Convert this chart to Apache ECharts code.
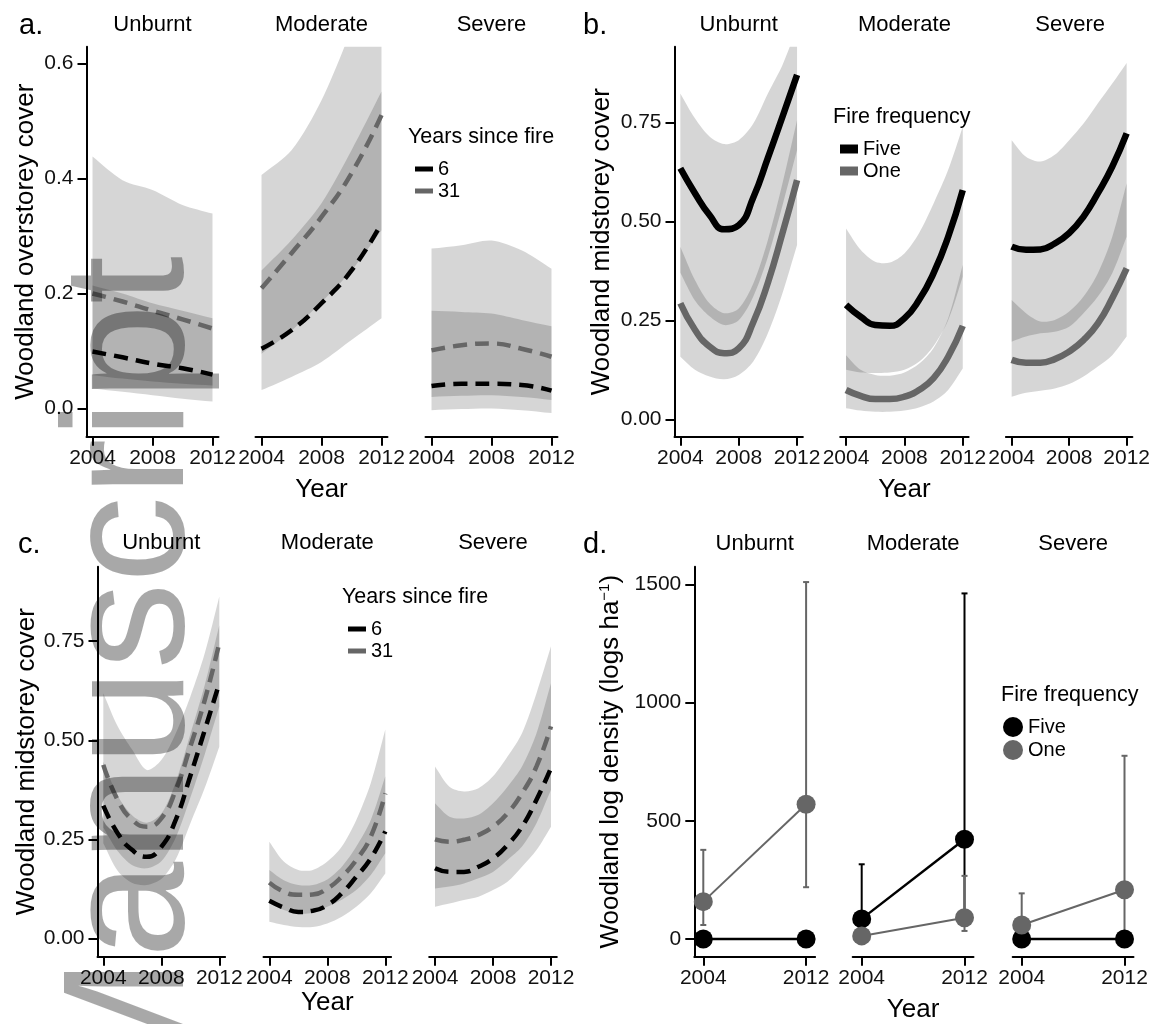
<!DOCTYPE html>
<html><head><meta charset="utf-8">
<script src="https://cdn.jsdelivr.net/npm/echarts@6/dist/echarts.min.js"></script>
<style>html,body{margin:0;padding:0;background:#fff}#c{width:1153px;height:1024px}</style>
</head><body><div id="c"></div>
<script>
// ---------------- data ----------------
const FACETS = ['Unburnt', 'Moderate', 'Severe'];
const X_TICKS = [2004, 2008, 2012];
const X_TICKS_D = [2004, 2012];
const Y_TICKS_A = [0, 0.2, 0.4, 0.6];
const Y_TICKS_BC = [0, 0.25, 0.5, 0.75];
const Y_TICKS_D = [0, 500, 1000, 1500];

const YEARS_A = [2004, 2006, 2008, 2010, 2012];
const YEARS_9 = [2004, 2005, 2006, 2007, 2008, 2009, 2010, 2011, 2012];
const YEARS_D = [2004, 2012];

// a. Woodland overstorey cover, years since fire 6 / 31
const a_unburnt_6_fit  = [0.099, 0.089, 0.078, 0.070, 0.059];
const a_unburnt_6_lo   = [0.035, 0.029, 0.023, 0.017, 0.012];
const a_unburnt_6_hi   = [0.214, 0.200, 0.183, 0.170, 0.157];
const a_unburnt_31_fit = [0.200, 0.186, 0.170, 0.155, 0.139];
const a_unburnt_31_lo  = [0.058, 0.052, 0.047, 0.043, 0.040];
const a_unburnt_31_hi  = [0.438, 0.397, 0.380, 0.354, 0.339];

const a_moderate_6_fit  = [0.104, 0.136, 0.183, 0.240, 0.322];
const a_moderate_6_lo   = [0.032, 0.055, 0.081, 0.119, 0.157];
const a_moderate_6_hi   = [0.240, 0.293, 0.357, 0.449, 0.551];
const a_moderate_31_fit = [0.209, 0.270, 0.333, 0.409, 0.510];
const a_moderate_31_lo  = [0.095, 0.135, 0.185, 0.240, 0.310];
const a_moderate_31_hi  = [0.406, 0.449, 0.536, 0.660, 0.800];

const a_severe_6_fit  = [0.039, 0.043, 0.043, 0.041, 0.031];
const a_severe_6_lo   = [-0.003, -0.001, 0.000, -0.003, -0.008];
const a_severe_6_hi   = [0.170, 0.168, 0.165, 0.154, 0.143];
const a_severe_31_fit = [0.101, 0.110, 0.113, 0.104, 0.090];
const a_severe_31_lo  = [0.020, 0.022, 0.023, 0.020, 0.015];
const a_severe_31_hi  = [0.278, 0.284, 0.292, 0.275, 0.243];

// b. Woodland midstorey cover, fire frequency Five / One
const b_unburnt_five_fit = [0.634, 0.571, 0.516, 0.480, 0.490, 0.560, 0.660, 0.764, 0.870];
const b_unburnt_five_lo  = [0.370, 0.300, 0.260, 0.238, 0.250, 0.310, 0.410, 0.540, 0.680];
const b_unburnt_five_hi  = [0.823, 0.760, 0.714, 0.695, 0.705, 0.747, 0.823, 0.895, 0.990];
const b_unburnt_one_fit  = [0.293, 0.226, 0.184, 0.167, 0.179, 0.245, 0.345, 0.470, 0.604];
const b_unburnt_one_lo   = [0.158, 0.125, 0.108, 0.101, 0.112, 0.146, 0.217, 0.318, 0.440];
const b_unburnt_one_hi   = [0.436, 0.352, 0.293, 0.268, 0.280, 0.343, 0.453, 0.596, 0.756];

const b_moderate_five_fit = [0.289, 0.259, 0.238, 0.236, 0.255, 0.301, 0.369, 0.461, 0.579];
const b_moderate_five_lo  = [0.125, 0.118, 0.117, 0.118, 0.125, 0.145, 0.185, 0.250, 0.360];
const b_moderate_five_hi  = [0.482, 0.428, 0.398, 0.396, 0.419, 0.470, 0.545, 0.630, 0.739];
const b_moderate_one_fit  = [0.074, 0.059, 0.051, 0.051, 0.057, 0.074, 0.104, 0.158, 0.236];
const b_moderate_one_lo   = [0.028, 0.022, 0.019, 0.019, 0.022, 0.030, 0.045, 0.074, 0.128];
const b_moderate_one_hi   = [0.162, 0.125, 0.112, 0.110, 0.118, 0.140, 0.180, 0.255, 0.390];

const b_severe_five_fit = [0.436, 0.428, 0.429, 0.444, 0.470, 0.512, 0.571, 0.638, 0.722];
const b_severe_five_lo  = [0.196, 0.209, 0.217, 0.221, 0.234, 0.268, 0.310, 0.369, 0.461];
const b_severe_five_hi  = [0.705, 0.663, 0.651, 0.668, 0.705, 0.747, 0.798, 0.848, 0.900];
const b_severe_one_fit  = [0.150, 0.143, 0.143, 0.152, 0.171, 0.200, 0.242, 0.306, 0.381];
const b_severe_one_lo   = [0.057, 0.067, 0.072, 0.078, 0.089, 0.108, 0.133, 0.162, 0.209];
const b_severe_one_hi   = [0.301, 0.268, 0.247, 0.251, 0.272, 0.310, 0.369, 0.461, 0.596];

// c. Woodland midstorey cover, years since fire 6 / 31
const c_unburnt_6_fit  = [0.335, 0.265, 0.223, 0.206, 0.231, 0.300, 0.410, 0.526, 0.644];
const c_unburnt_6_lo   = [0.240, 0.170, 0.140, 0.135, 0.150, 0.200, 0.290, 0.380, 0.484];
const c_unburnt_6_hi   = [0.446, 0.360, 0.310, 0.292, 0.315, 0.395, 0.515, 0.640, 0.790];
const c_unburnt_31_fit = [0.438, 0.349, 0.299, 0.282, 0.303, 0.375, 0.484, 0.602, 0.745];
const c_unburnt_31_lo  = [0.280, 0.220, 0.185, 0.177, 0.195, 0.255, 0.355, 0.465, 0.585];
const c_unburnt_31_hi  = [0.619, 0.535, 0.476, 0.425, 0.450, 0.518, 0.610, 0.720, 0.863];

const c_moderate_6_fit  = [0.095, 0.078, 0.067, 0.070, 0.084, 0.114, 0.156, 0.202, 0.270];
const c_moderate_6_lo   = [0.042, 0.034, 0.029, 0.029, 0.038, 0.055, 0.080, 0.114, 0.164];
const c_moderate_6_hi   = [0.173, 0.147, 0.135, 0.135, 0.149, 0.181, 0.232, 0.299, 0.409];
const c_moderate_31_fit = [0.141, 0.118, 0.110, 0.111, 0.126, 0.156, 0.198, 0.257, 0.366];
const c_moderate_31_lo  = [0.088, 0.072, 0.063, 0.065, 0.080, 0.098, 0.122, 0.160, 0.215];
const c_moderate_31_hi  = [0.244, 0.194, 0.173, 0.173, 0.194, 0.232, 0.299, 0.392, 0.527];

const c_severe_6_fit  = [0.177, 0.168, 0.168, 0.181, 0.202, 0.236, 0.282, 0.350, 0.430];
const c_severe_6_lo   = [0.080, 0.088, 0.097, 0.105, 0.122, 0.143, 0.181, 0.223, 0.282];
const c_severe_6_hi   = [0.341, 0.307, 0.303, 0.312, 0.341, 0.383, 0.434, 0.518, 0.644];
const c_severe_31_fit = [0.250, 0.244, 0.249, 0.261, 0.282, 0.316, 0.366, 0.434, 0.535];
const c_severe_31_lo  = [0.126, 0.131, 0.139, 0.152, 0.168, 0.198, 0.232, 0.291, 0.375];
const c_severe_31_hi  = [0.434, 0.383, 0.371, 0.379, 0.409, 0.459, 0.518, 0.619, 0.737];

// d. Woodland log density (mean with error bars)
const d_unburnt_five    = [0, 0];
const d_unburnt_one     = [158, 570];
const d_unburnt_one_lo  = [59, 219];
const d_unburnt_one_hi  = [377, 1510];
const d_moderate_five    = [85, 422];
const d_moderate_five_lo = [24, 109];
const d_moderate_five_hi = [316, 1462];
const d_moderate_one     = [13, 90];
const d_moderate_one_lo  = [1, 34];
const d_moderate_one_hi  = [59, 267];
const d_severe_five    = [0, 0];
const d_severe_one     = [59, 208];
const d_severe_one_lo  = [18, 26];
const d_severe_one_hi  = [193, 775];

// ---------------- styling / layout ----------------
const FONT = '"Liberation Sans", Arial, sans-serif';
const BLACK = '#000000';
const GREY = '#666666';
const RIBBON = 'rgba(0,0,0,0.16)';

const LAYOUT = [
  {top: 46.7, height: 390, lefts: [86.5, 255.5, 425.5], width: 132, xmin: 2003.6, xmax: 2012.4,
   ymin: -0.049, ymax: 0.629, yticks: Y_TICKS_A, ydec: 1, xticks: X_TICKS,
   yName: 'Woodland overstorey cover', yGap: 48, xGap: 40},
  {top: 46.7, height: 390, lefts: [674.5, 840.2, 1005.9], width: 128.4, xmin: 2003.6, xmax: 2012.4,
   ymin: -0.044, ymax: 0.941, yticks: Y_TICKS_BC, ydec: 2, xticks: X_TICKS,
   yName: 'Woodland midstorey cover', yGap: 60, xGap: 40},
  {top: 566.7, height: 390, lefts: [97.5, 263.5, 429.2], width: 127.6, xmin: 2003.6, xmax: 2012.4,
   ymin: -0.046, ymax: 0.938, yticks: Y_TICKS_BC, ydec: 2, xticks: X_TICKS,
   yName: 'Woodland midstorey cover', yGap: 58, xGap: 31},
  {top: 566.7, height: 390, lefts: [694.3, 852.7, 1012.7], width: 120.8, xmin: 2003.3, xmax: 2012.7,
   ymin: -75, ymax: 1575, yticks: Y_TICKS_D, ydec: 0, xticks: X_TICKS_D,
   yName: 'Woodland log density (logs ha{sup|−1})', yGap: 70, xGap: 40}
];

const grids = [], xAxes = [], yAxes = [];
LAYOUT.forEach((P, pi) => {
  P.lefts.forEach((left, fi) => {
    grids.push({left: left, top: P.top, width: P.width, height: P.height, containLabel: false});
    const g = grids.length - 1;
    xAxes.push({
      type: 'value', gridIndex: g, min: P.xmin, max: P.xmax,
      axisLine: {show: true, onZero: false, lineStyle: {color: BLACK, width: 2}},
      axisTick: {show: true, length: 9, lineStyle: {color: BLACK, width: 2}, customValues: P.xticks},
      axisLabel: {show: true, customValues: P.xticks, formatter: v => String(v), fontSize: 21,
        fontFamily: FONT, color: '#111', margin: 11},
      splitLine: {show: false},
      name: fi === 1 ? 'Year' : '', nameLocation: 'middle', nameGap: P.xGap,
      nameTextStyle: {fontSize: 26, fontFamily: FONT, color: BLACK, verticalAlign: 'top'}
    });
    const isFirst = fi === 0;
    yAxes.push({
      type: 'value', gridIndex: g, min: P.ymin, max: P.ymax, show: isFirst,
      axisLine: {show: true, onZero: false, lineStyle: {color: BLACK, width: 2}},
      axisTick: {show: true, length: 9, lineStyle: {color: BLACK, width: 2}, customValues: P.yticks},
      axisLabel: {show: true, customValues: P.yticks, formatter: v => Number(v).toFixed(P.ydec),
        fontSize: 21, fontFamily: FONT, color: '#111', margin: 13},
      splitLine: {show: false},
      name: isFirst ? P.yName : '', nameLocation: 'middle', nameRotate: 90, nameGap: P.yGap,
      nameTextStyle: {fontSize: 26, fontFamily: FONT, color: BLACK,
        rich: {sup: {fontSize: 15, fontFamily: FONT, color: BLACK, verticalAlign: 'top', padding: [0, 0, 12, 0]}}}
    });
  });
});

const series = [];
function addRibbon(g, xs, lo, hi) {
  const data = xs.map((x, i) => [x, lo[i], hi[i]]);
  series.push({
    type: 'custom', xAxisIndex: g, yAxisIndex: g, clip: true, silent: true, z: 1,
    encode: {x: 0, y: [1, 2]}, data: data,
    renderItem: function (params, api) {
      if (params.dataIndex !== 0) return null;
      const top = data.map(d => api.coord([d[0], d[2]]));
      const bot = data.map(d => api.coord([d[0], d[1]])).reverse();
      // duplicate the end points so the smoothed outline keeps square ends
      const pts = [top[0]].concat(top, [top[top.length - 1], bot[0]], bot, [bot[bot.length - 1]]);
      return {type: 'polygon', shape: {points: pts, smooth: 0.3}, style: {fill: RIBBON}};
    }
  });
}
function addLine(g, name, xs, ys, color, width, dashed) {
  series.push({
    type: 'line', name: name, xAxisIndex: g, yAxisIndex: g, silent: true, z: 3,
    data: xs.map((x, i) => [x, ys[i]]), smooth: 0.5, symbol: 'none', showSymbol: false,
    lineStyle: {color: color, width: width, type: dashed ? [14, 8] : 'solid', cap: 'butt'},
    itemStyle: {color: color}
  });
}
function addErr(g, xs, lo, hi, color) {
  series.push({
    type: 'custom', xAxisIndex: g, yAxisIndex: g, silent: true, z: 4,
    encode: {x: 0, y: [1, 2]}, data: xs.map((x, i) => [x, lo[i], hi[i]]),
    renderItem: function (params, api) {
      const x = api.value(0);
      const p0 = api.coord([x, api.value(1)]);
      const p1 = api.coord([x, api.value(2)]);
      const w = 3, st = {stroke: color, lineWidth: 2};
      return {type: 'group', children: [
        {type: 'line', shape: {x1: p0[0], y1: p0[1], x2: p1[0], y2: p1[1]}, style: st},
        {type: 'line', shape: {x1: p1[0] - w, y1: p1[1], x2: p1[0] + w, y2: p1[1]}, style: st},
        {type: 'line', shape: {x1: p0[0] - w, y1: p0[1], x2: p0[0] + w, y2: p0[1]}, style: st}
      ]};
    }
  });
}
function addPoints(g, name, xs, ys, color, width, z) {
  series.push({
    type: 'line', name: name, xAxisIndex: g, yAxisIndex: g, silent: true, z: z,
    data: xs.map((x, i) => [x, ys[i]]), symbol: 'circle', symbolSize: 19, showSymbol: true,
    lineStyle: {color: color, width: width}, itemStyle: {color: color}
  });
}

// panel a
addRibbon(0, YEARS_A, a_unburnt_6_lo, a_unburnt_6_hi);
addRibbon(0, YEARS_A, a_unburnt_31_lo, a_unburnt_31_hi);
addLine(0, '6', YEARS_A, a_unburnt_6_fit, BLACK, 4.5, true);
addLine(0, '31', YEARS_A, a_unburnt_31_fit, GREY, 4.5, true);
addRibbon(1, YEARS_A, a_moderate_6_lo, a_moderate_6_hi);
addRibbon(1, YEARS_A, a_moderate_31_lo, a_moderate_31_hi);
addLine(1, '6', YEARS_A, a_moderate_6_fit, BLACK, 4.5, true);
addLine(1, '31', YEARS_A, a_moderate_31_fit, GREY, 4.5, true);
addRibbon(2, YEARS_A, a_severe_6_lo, a_severe_6_hi);
addRibbon(2, YEARS_A, a_severe_31_lo, a_severe_31_hi);
addLine(2, '6', YEARS_A, a_severe_6_fit, BLACK, 4.5, true);
addLine(2, '31', YEARS_A, a_severe_31_fit, GREY, 4.5, true);

// panel b
addRibbon(3, YEARS_9, b_unburnt_five_lo, b_unburnt_five_hi);
addRibbon(3, YEARS_9, b_unburnt_one_lo, b_unburnt_one_hi);
addLine(3, 'Five', YEARS_9, b_unburnt_five_fit, BLACK, 6.5, false);
addLine(3, 'One', YEARS_9, b_unburnt_one_fit, GREY, 6.5, false);
addRibbon(4, YEARS_9, b_moderate_five_lo, b_moderate_five_hi);
addRibbon(4, YEARS_9, b_moderate_one_lo, b_moderate_one_hi);
addLine(4, 'Five', YEARS_9, b_moderate_five_fit, BLACK, 6.5, false);
addLine(4, 'One', YEARS_9, b_moderate_one_fit, GREY, 6.5, false);
addRibbon(5, YEARS_9, b_severe_five_lo, b_severe_five_hi);
addRibbon(5, YEARS_9, b_severe_one_lo, b_severe_one_hi);
addLine(5, 'Five', YEARS_9, b_severe_five_fit, BLACK, 6.5, false);
addLine(5, 'One', YEARS_9, b_severe_one_fit, GREY, 6.5, false);

// panel c
addRibbon(6, YEARS_9, c_unburnt_6_lo, c_unburnt_6_hi);
addRibbon(6, YEARS_9, c_unburnt_31_lo, c_unburnt_31_hi);
addLine(6, '6', YEARS_9, c_unburnt_6_fit, BLACK, 4.5, true);
addLine(6, '31', YEARS_9, c_unburnt_31_fit, GREY, 4.5, true);
addRibbon(7, YEARS_9, c_moderate_6_lo, c_moderate_6_hi);
addRibbon(7, YEARS_9, c_moderate_31_lo, c_moderate_31_hi);
addLine(7, '6', YEARS_9, c_moderate_6_fit, BLACK, 4.5, true);
addLine(7, '31', YEARS_9, c_moderate_31_fit, GREY, 4.5, true);
addRibbon(8, YEARS_9, c_severe_6_lo, c_severe_6_hi);
addRibbon(8, YEARS_9, c_severe_31_lo, c_severe_31_hi);
addLine(8, '6', YEARS_9, c_severe_6_fit, BLACK, 4.5, true);
addLine(8, '31', YEARS_9, c_severe_31_fit, GREY, 4.5, true);

// panel d
addErr(9, YEARS_D, d_unburnt_one_lo, d_unburnt_one_hi, GREY);
addPoints(9, 'Five', YEARS_D, d_unburnt_five, BLACK, 2.5, 5);
addPoints(9, 'One', YEARS_D, d_unburnt_one, GREY, 2, 6);
addErr(10, YEARS_D, d_moderate_five_lo, d_moderate_five_hi, BLACK);
addErr(10, YEARS_D, d_moderate_one_lo, d_moderate_one_hi, GREY);
addPoints(10, 'Five', YEARS_D, d_moderate_five, BLACK, 2.5, 5);
addPoints(10, 'One', YEARS_D, d_moderate_one, GREY, 2, 6);
addErr(11, YEARS_D, d_severe_one_lo, d_severe_one_hi, GREY);
addPoints(11, 'Five', YEARS_D, d_severe_five, BLACK, 2.5, 5);
addPoints(11, 'One', YEARS_D, d_severe_one, GREY, 2, 6);

// ---------------- text elements ----------------
function txt(x, y, text, size, align, valign, extra) {
  return Object.assign({
    type: 'text', x: x, y: y, z: 50, silent: true,
    style: {text: text, fontSize: size, fontFamily: FONT, fill: BLACK,
      align: align, verticalAlign: valign, textAlign: align, textVerticalAlign: valign}
  }, extra || {});
}
const graphics = [];
// panel letters
graphics.push(txt(19, 26, 'a.', 29, 'left', 'middle'));
graphics.push(txt(583, 26, 'b.', 29, 'left', 'middle'));
graphics.push(txt(18, 545, 'c.', 29, 'left', 'middle'));
graphics.push(txt(583, 545, 'd.', 29, 'left', 'middle'));
// facet strip titles
const STRIP_Y = [25, 25, 543, 544];
LAYOUT.forEach((P, pi) => {
  P.lefts.forEach((left, fi) => {
    graphics.push(txt(left + P.width / 2, STRIP_Y[pi], FACETS[fi], 22, 'center', 'middle'));
  });
});
// legend titles
graphics.push(txt(408, 137, 'Years since fire', 21.5, 'left', 'middle'));
graphics.push(txt(833, 117, 'Fire frequency', 21.5, 'left', 'middle'));
graphics.push(txt(342, 597, 'Years since fire', 21.5, 'left', 'middle'));
graphics.push(txt(1001, 695, 'Fire frequency', 21.5, 'left', 'middle'));
// watermark
graphics.push({
  type: 'text', x: 135, y: 1102, rotation: Math.PI / 2, z: 100, silent: true,
  style: {text: 'Manuscript', fontSize: 173, fontFamily: FONT, fill: 'rgba(0,0,0,0.34)',
    align: 'left', verticalAlign: 'middle', textAlign: 'left', textVerticalAlign: 'middle'}
});

const legendText = {fontSize: 20, fontFamily: FONT, color: BLACK};
const legends = [
  {left: 410, top: 154, orient: 'vertical', itemWidth: 18, itemHeight: 5, itemGap: 2, selectedMode: false,
   textStyle: legendText, itemStyle: {borderWidth: 0},
   data: [{name: '6', icon: 'rect', itemStyle: {color: BLACK}}, {name: '31', icon: 'rect', itemStyle: {color: GREY}}]},
  {left: 835, top: 134, orient: 'vertical', itemWidth: 18, itemHeight: 9, itemGap: 2, selectedMode: false,
   textStyle: legendText, itemStyle: {borderWidth: 0},
   data: [{name: 'Five', icon: 'rect', itemStyle: {color: BLACK}}, {name: 'One', icon: 'rect', itemStyle: {color: GREY}}]},
  {left: 343, top: 614, orient: 'vertical', itemWidth: 18, itemHeight: 5, itemGap: 2, selectedMode: false,
   textStyle: legendText, itemStyle: {borderWidth: 0},
   data: [{name: '6', icon: 'rect', itemStyle: {color: BLACK}}, {name: '31', icon: 'rect', itemStyle: {color: GREY}}]},
  {left: 998, top: 712, orient: 'vertical', itemWidth: 20, itemHeight: 20, itemGap: 3, selectedMode: false,
   textStyle: legendText, itemStyle: {borderWidth: 0},
   data: [{name: 'Five', icon: 'circle', itemStyle: {color: BLACK}}, {name: 'One', icon: 'circle', itemStyle: {color: GREY}}]}
];

const chart = echarts.init(document.getElementById('c'), null, {renderer: 'canvas', width: 1153, height: 1024});
chart.setOption({
  backgroundColor: '#ffffff',
  animation: false,
  grid: grids, xAxis: xAxes, yAxis: yAxes,
  legend: legends,
  series: series,
  graphic: graphics
});
</script>
</body></html>
